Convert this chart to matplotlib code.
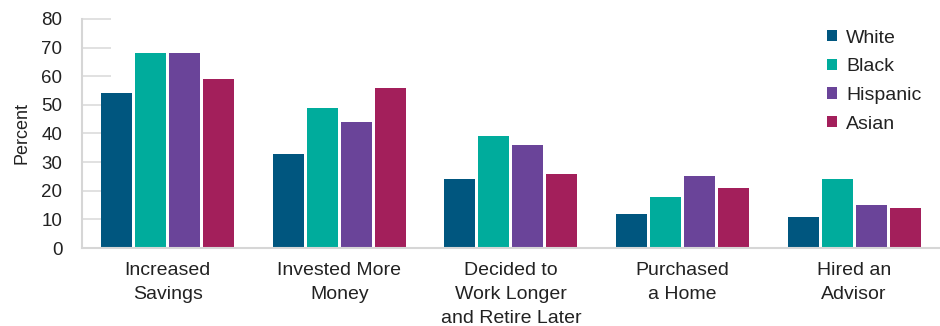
import numpy as np
import matplotlib.pyplot as plt

plt.rcParams['font.family'] = ['Liberation Sans', 'DejaVu Sans']

categories = ['Increased\nSavings', 'Invested More\nMoney', 'Decided to\nWork Longer\nand Retire Later',
              'Purchased\na Home', 'Hired an\nAdvisor']
groups = ['White', 'Black', 'Hispanic', 'Asian']
white = [54, 33, 24, 12, 11]
black = [68, 49, 39, 18, 24]
hispanic = [68, 44, 36, 25, 15]
asian = [59, 56, 26, 21, 14]
colors = ['#00567F', '#00AC9C', '#6A4499', '#A31F5B']

fig = plt.figure(figsize=(9.4, 3.26), dpi=100)
ax = fig.add_axes([0.087, 0.239, 0.913, 0.703])

x = np.arange(len(categories))
step = 0.198
width = 0.18
for i, (name, vals) in enumerate(zip(groups, [white, black, hispanic, asian])):
    ax.bar(x + (i - 1.5) * step, vals, width, color=colors[i], label=name, zorder=2)

ax.set_xlim(-0.5, 4.5)
ax.set_ylim(0, 80)
ax.set_yticks(range(0, 81, 10))
ax.set_xticks(x)
ax.set_xticklabels(categories, fontsize=14, color='#222222', linespacing=1.55)
ax.tick_params(axis='x', length=0, pad=10)
ax.tick_params(axis='y', direction='in', length=21, width=1.2, color='#dcdcdc',
               labelsize=13.5, labelcolor='#222222', pad=14)
ax.set_ylabel('Percent', fontsize=13, color='#222222', labelpad=8)

for s in ['top', 'right']:
    ax.spines[s].set_visible(False)
for s in ['left', 'bottom']:
    ax.spines[s].set_color('#d6d6d6')
    ax.spines[s].set_linewidth(1.5)

ax.legend(loc='upper right', bbox_to_anchor=(0.999, 1.03), frameon=False, fontsize=14,
          handlelength=0.5, handleheight=0.5, handletextpad=0.5, labelspacing=0.6,
          labelcolor='#222222')

fig.savefig('out.png', dpi=100)
